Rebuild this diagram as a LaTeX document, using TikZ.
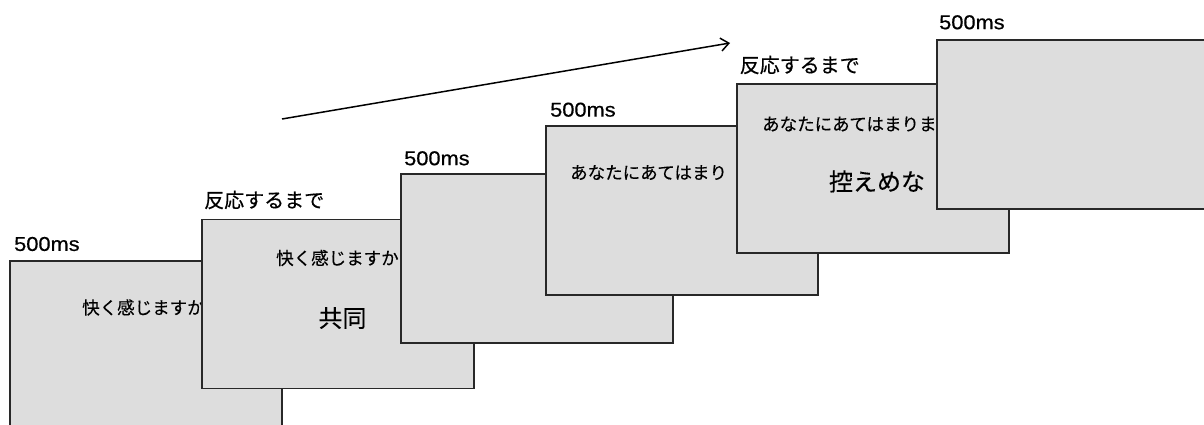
\documentclass[tikz,border=0pt]{standalone}
\usepackage{fontspec}
\setmainfont{Liberation Sans}
\newfontfamily\lat[FakeStretch=1.09,FakeBold=0.6]{Liberation Sans}
\newfontfamily\jp[FakeBold=0.5]{Noto Sans CJK JP}
\newfontfamily\jpr[FakeBold=0.3]{Noto Sans CJK JP}
\usetikzlibrary{arrows.meta}
\definecolor{scr}{RGB}{221,221,221}
\definecolor{edge}{RGB}{40,40,40}
\tikzset{
  screen/.style={draw=edge, fill=scr, line width=1.4pt, anchor=north west,
    minimum width=272pt, minimum height=169pt, inner sep=0pt, outer sep=0pt},
  mslab/.style={anchor=west, inner sep=0pt, font=\lat\fontsize{20}{24}\selectfont},
  jplab/.style={anchor=west, inner sep=0pt, font=\jp\fontsize{20}{24}\selectfont},
  small/.style={anchor=west, inner sep=0pt, font=\jpr\fontsize{17.5}{21}\selectfont},
  big/.style={anchor=center, inner sep=0pt, font=\jpr\fontsize{24}{28}\selectfont},
  flow/.style={line width=1.5pt, -{Straight Barb[length=8pt,width=13pt,line width=1.5pt]}}
}
\begin{document}
\begin{tikzpicture}[x=1pt,y=-1pt]
\useasboundingbox (0,0) rectangle (1204,425);
\clip (0,0) rectangle (1204,425);
% arrow
\coordinate (a0) at (282,119);
\coordinate (a1) at (730,43);
\draw[flow] (a0) -- (a1);
% screen 1
\node[screen] (r1) at (10,261) {};
\node[mslab] (l1) at (14,244) {500ms};
\node[small] (s1) at (82,307.5) {快く感じますか};
% screen 2
\node[screen] (r2) at (202,219.5) {};
\node[jplab] (l2) at (204,200) {反応するまで};
\node[small] (s2) at (276,258) {快く感じますか};
\node[big] (b2) at (342.5,318) {共同};
% screen 3
\node[screen] (r3) at (401,174) {};
\node[mslab] (l3) at (404,158.3) {500ms};
% screen 4
\node[screen] (r4) at (546,126) {};
\node[mslab] (l4) at (550,109.7) {500ms};
\node[small] (s4) at (570,172.5) {あなたにあてはまり};
% screen 5
\node[screen] (r5) at (737,84) {};
\node[jplab] (l5) at (739.5,65) {反応するまで};
\node[small] (s5) at (762,124) {あなたにあてはまりま};
\node[big] (b5) at (877,181.5) {控えめな};
% screen 6
\node[screen] (r6) at (937,40) {};
\node[mslab] (l6) at (939,22.3) {500ms};
\end{tikzpicture}
\end{document}
